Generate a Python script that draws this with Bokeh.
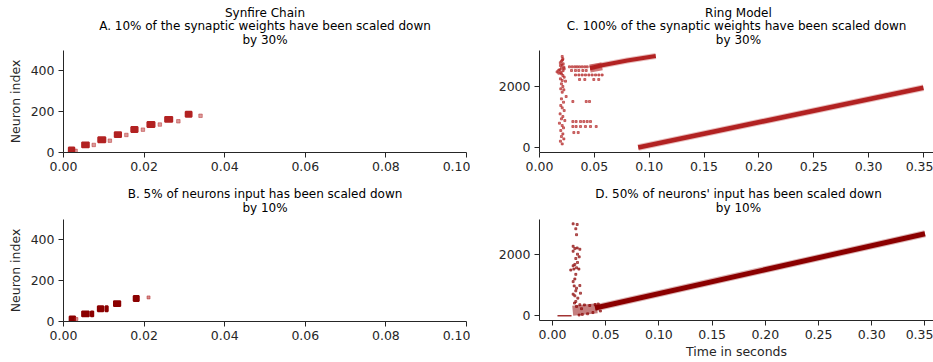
from bokeh.plotting import figure
from bokeh.models import FixedTicker, PrintfTickFormatter, Range1d
from bokeh.core.properties import value
from bokeh.layouts import column, row
from bokeh.embed import file_html
from bokeh.resources import INLINE

# ---------------- data ----------------
# A. Synfire chain, 10% of synaptic weights scaled down by 30%
A_group_lo = [0, 25, 50, 75, 100, 125, 150, 175]
A_group_hi = [25, 50, 75, 100, 125, 150, 175, 200]
A_t_start = [0.0013, 0.0046, 0.0086, 0.0127, 0.0168, 0.0208, 0.0252, 0.0303]
A_t_end = [0.0027, 0.0063, 0.0104, 0.0143, 0.0184, 0.0226, 0.0270, 0.0318]
A_late_t = [0.0030, 0.0075, 0.0115, 0.0156, 0.0197, 0.0239, 0.0285, 0.0340]
A_late_n = [8, 37, 58, 86, 112, 137, 153, 180]

# B. Synfire chain, 5% of neurons input scaled down by 10%
B_group_lo = [0, 25, 25, 50, 50, 75, 100]
B_group_hi = [25, 50, 50, 75, 75, 100, 125]
B_t_start = [0.0015, 0.0046, 0.0068, 0.0085, 0.0104, 0.0125, 0.0174]
B_t_end = [0.0029, 0.0063, 0.0074, 0.0099, 0.0110, 0.0141, 0.0187]
B_late_t = [0.0032, 0.0211]
B_late_n = [12, 118]

# C. Ring model, 100% of synaptic weights scaled down by 30%
C_wave_t = [0.090, 0.350]
C_wave_n = [0, 1960]
C_upper_t = [0.046, 0.056, 0.080, 0.106]
C_upper_n = [2600, 2690, 2853, 3000]
C_head_t = [0.046, 0.057]
C_head_n = [2590, 2660]
C_dots_t = [0.0207, 0.0213, 0.0200, 0.0216, 0.0191, 0.0222, 0.0176, 0.0200, 0.0213,
            0.0225, 0.0191, 0.0207, 0.0237, 0.0200, 0.0213, 0.0194, 0.0222, 0.0207,
            0.0243, 0.0200, 0.0219, 0.0194, 0.0207, 0.0225, 0.0188, 0.0213, 0.0200,
            0.0231, 0.0182, 0.0207, 0.0219, 0.0194, 0.0213, 0.0200, 0.0222, 0.0191,
            0.0207, 0.0160, 0.0185, 0.0200, 0.0215, 0.0195, 0.0175, 0.0225, 0.0205,
            0.0190, 0.0210,
            0.0273, 0.0298, 0.0322, 0.0343, 0.0365, 0.0389, 0.0413, 0.0435,
            0.0292, 0.0328, 0.0358, 0.0395, 0.0426,
            0.0328, 0.0359, 0.0389, 0.0419, 0.0450, 0.0480, 0.0511, 0.0541, 0.0571,
            0.0365, 0.0413, 0.0495, 0.0540,
            0.0304, 0.0426, 0.0456,
            0.0304, 0.0334, 0.0374, 0.0404, 0.0435, 0.0465,
            0.0304, 0.0334, 0.0374, 0.0419, 0.0465, 0.0517,
            0.0313, 0.0353]
C_dots_n = [2984, 2907, 2831, 2743, 2689, 2634, 2437, 2416, 2361,
            2306, 2252, 2197, 2175, 2088, 2000, 1924, 1891, 1814,
            1672, 1596, 1486, 1377, 1301, 1213, 1104, 1016, 940,
            885, 798, 721, 645, 557, 448, 361, 284, 208,
            120, 2480, 2550, 2600, 2520, 2460, 2530, 2580, 2700,
            2780, 2870,
            2645, 2645, 2645, 2645, 2645, 2645, 2645, 2645,
            2525, 2525, 2525, 2525, 2525,
            2378, 2378, 2378, 2378, 2378, 2378, 2378, 2378, 2378,
            2230, 2230, 2230, 2230,
            1508, 1508, 1508,
            852, 852, 852, 852, 852, 852,
            689, 689, 689, 689, 689, 689,
            492, 492]

# D. Ring model, 50% of neurons' input scaled down by 10%
D_wave_t = [0.040, 0.350]
D_wave_n = [250, 2667]
D_cloud_t = [0.019, 0.042]
D_cloud_n = [160, 240]
D_flat_t = [0.0047, 0.0179]
D_flat_n = [0, 0]
D_dots_t = [0.0194, 0.0232, 0.0219, 0.0226, 0.0194, 0.0210, 0.0232, 0.0257, 0.0194,
            0.0235, 0.0251, 0.0219, 0.0235, 0.0210, 0.0194, 0.0226, 0.0248, 0.0172,
            0.0201, 0.0219, 0.0210, 0.0194, 0.0204, 0.0257, 0.0226, 0.0219, 0.0263,
            0.0194, 0.0210, 0.0238, 0.0219, 0.0207, 0.0257, 0.0226, 0.0273,
            0.0300, 0.0350, 0.0400, 0.0280, 0.0330, 0.0250, 0.0380, 0.0430, 0.0450]
D_dots_n = [2989, 2968, 2828, 2635, 2258, 2183, 2204, 2161, 2097,
            2000, 1914, 1860, 1731, 1667, 1624, 1559, 1516, 1484,
            1516, 1344, 1194, 1108, 968, 979, 893, 807, 731,
            699, 645, 570, 462, 409, 355, 301, 226,
            350, 330, 360, 40, 60, 20, 100, 380, 150]

LEFT_XTICKS = [0.0, 0.02, 0.04, 0.06, 0.08, 0.10]
RIGHT_XTICKS = [0.0, 0.05, 0.10, 0.15, 0.20, 0.25, 0.30, 0.35]
LEFT_YTICKS = [0, 200, 400]
RIGHT_YTICKS = [0, 2000]

TITLE_A = ["Synfire Chain", "A. 10% of the synaptic weights have been scaled down", "by 30%"]
TITLE_B = ["B. 5% of neurons input has been scaled down", "by 10%"]
TITLE_C = ["Ring Model", "C.  100% of the synaptic weights have been scaled down", "by 30%"]
TITLE_D = ["D. 50% of neurons' input has been scaled down", "by 10%"]

RED1 = "#b22222"   # firebrick
RED2 = "#8b0000"   # darkred
FONT = "DejaVu Sans"
TXT = "#262626"
LINE_STEP = 13.5   # px between title lines


def style(p, xticks, yticks):
    p.outline_line_color = None
    p.grid.visible = False
    for ax in (p.xaxis[0], p.yaxis[0]):
        ax.axis_line_color = TXT
        ax.axis_line_width = 1
        ax.major_tick_line_color = TXT
        ax.major_tick_out = 5
        ax.major_tick_in = 0
        ax.minor_tick_line_color = None
        ax.major_label_text_font = FONT
        ax.major_label_text_font_size = "12.5px"
        ax.major_label_text_color = TXT
        ax.major_label_standoff = 4
        ax.axis_label_text_font = FONT
        ax.axis_label_text_font_size = "12.5px"
        ax.axis_label_text_font_style = "normal"
        ax.axis_label_text_color = TXT
        ax.axis_label_standoff = 5
    p.xaxis[0].axis_label_standoff = 2
    p.xaxis.ticker = FixedTicker(ticks=xticks)
    p.yaxis.ticker = FixedTicker(ticks=yticks)
    p.xaxis.formatter = PrintfTickFormatter(format="%.2f")


def title_box(width, height, lines, cx, bottom_line_y):
    """Axis-less strip above a panel; its frame lines up with the panel's frame,
    x runs 0..1 across that frame and y is in pixels."""
    t = figure(width=width, height=height, x_range=Range1d(0, 1), y_range=Range1d(0, height),
               output_backend="svg", toolbar_location=None, title=None,
               x_axis_type=None, y_axis_type=None,
               min_border_top=0, min_border_bottom=0, min_border_left=0, min_border_right=0)
    t.outline_line_color = None
    n = len(lines)
    ys = [bottom_line_y + LINE_STEP * (n - 1 - i) for i in range(n)]
    t.text(x=[cx] * n, y=ys, text=lines, text_align="center", text_baseline="middle",
           text_font=value(FONT), text_font_size="12px", text_color="black")
    return t


def make(width, height, xr, yr, top, bottom, left, right):
    return figure(width=width, height=height, x_range=Range1d(*xr), y_range=Range1d(*yr),
                  output_backend="svg", toolbar_location=None, title=None,
                  min_border_top=top, min_border_bottom=bottom,
                  min_border_left=left, min_border_right=right)


# ---------------- A ----------------
tA = title_box(470, 47, TITLE_A, 0.5, 8)
pA = make(470, 129, (0, 0.1), (0, 500), 3, 24, 63, 4)
style(pA, LEFT_XTICKS, LEFT_YTICKS)
pA.yaxis.axis_label = "Neuron index"
pA.quad(left=A_t_start, right=A_t_end, bottom=A_group_lo, top=A_group_hi,
        fill_color=RED1, line_color=RED1, line_width=1.8)
pA.scatter(A_late_t, A_late_n, marker="square", size=3.5, color=RED1, alpha=0.45)

# ---------------- B ----------------
tB = title_box(470, 40, TITLE_B, 0.5, 9)
pB = make(470, 145, (0, 0.1), (0, 500), 3, 40, 63, 4)
style(pB, LEFT_XTICKS, LEFT_YTICKS)
pB.yaxis.axis_label = "Neuron index"
pB.quad(left=B_t_start, right=B_t_end, bottom=B_group_lo, top=B_group_hi,
        fill_color=RED2, line_color=RED2, line_width=1.8)
pB.scatter(B_late_t, B_late_n, marker="square", size=3, color=RED1, alpha=0.5)

# ---------------- C ----------------
tC = title_box(463, 47, TITLE_C, 0.505, 8)
pC = make(463, 129, (0, 0.3592), (-162, 3180), 3, 24, 69, 0)
style(pC, RIGHT_XTICKS, RIGHT_YTICKS)
pC.line(C_wave_t, C_wave_n, line_width=6.5, color=RED1, alpha=0.3)
pC.line(C_wave_t, C_wave_n, line_width=4.5, color=RED1)
pC.line(C_upper_t, C_upper_n, line_width=6, color=RED1, alpha=0.3)
pC.line(C_upper_t, C_upper_n, line_width=4, color=RED1)
pC.line(C_head_t, C_head_n, line_width=8, color=RED1, alpha=0.6)
pC.scatter(C_dots_t, C_dots_n, marker="square", size=2, color=RED1, alpha=0.6)

# ---------------- D ----------------
tD = title_box(463, 40, TITLE_D, 0.505, 9)
pD = make(463, 145, (-0.0122, 0.358), (-158, 3130), 3, 40, 69, 0)
style(pD, RIGHT_XTICKS, RIGHT_YTICKS)
pD.xaxis.axis_label = "Time in seconds"
pD.line(D_wave_t, D_wave_n, line_width=7, color=RED2, alpha=0.3)
pD.line(D_wave_t, D_wave_n, line_width=5, color=RED2)
pD.line(D_cloud_t, D_cloud_n, line_width=10, color=RED2, alpha=0.5)
pD.line(D_flat_t, D_flat_n, line_width=1.5, color=RED2, alpha=0.8)
pD.scatter(D_dots_t, D_dots_n, marker="square", size=2, color=RED2, alpha=0.6)

left_col = column(tA, pA, tB, pB, spacing=0)
right_col = column(tC, pC, tD, pD, spacing=0)
layout = row(left_col, right_col, spacing=0)

open("out.html", "w").write(file_html(layout, INLINE))
